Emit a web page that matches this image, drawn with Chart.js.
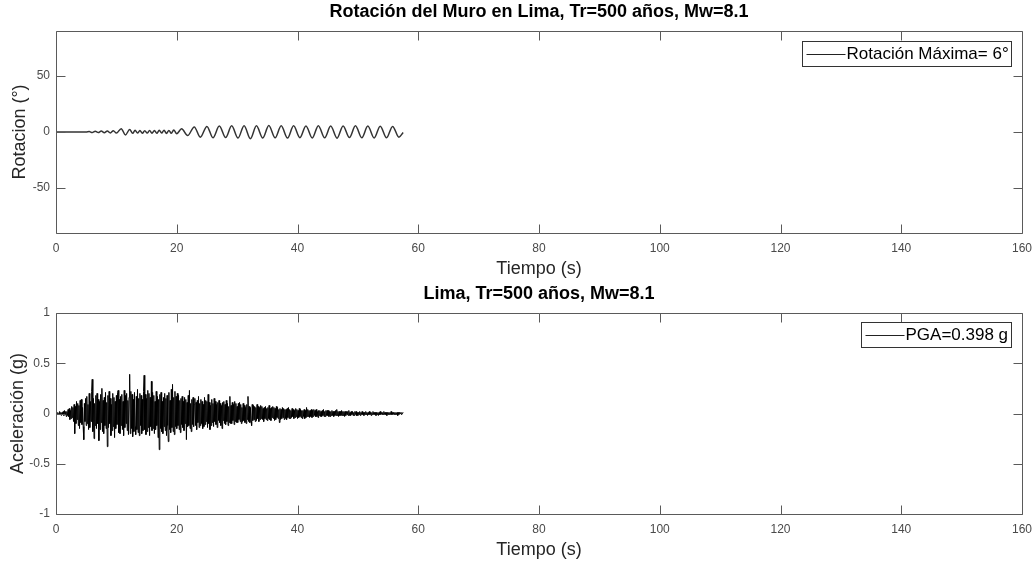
<!DOCTYPE html>
<html><head><meta charset="utf-8">
<script src="https://cdn.jsdelivr.net/npm/chart.js@4/dist/chart.umd.min.js"></script>
<style>
html,body{margin:0;padding:0;background:#fff;width:1035px;height:565px;overflow:hidden}
canvas{position:absolute;left:0;display:block}
#c1{top:0}
#c2{top:282px}
</style></head><body>
<canvas id="c1" width="1035" height="282"></canvas>
<canvas id="c2" width="1035" height="283"></canvas>
<script>
// ---- text ----
const titleTop = 'Rotación del Muro en Lima, Tr=500 años, Mw=8.1';
const titleBottom = 'Lima, Tr=500 años, Mw=8.1';
const xAxisTitle = 'Tiempo (s)';
const yTitleTop = 'Rotacion (°)';
const yTitleBottom = 'Aceleración (g)';
const legendTop = 'Rotación Máxima= 6°';
const legendBottom = 'PGA=0.398 g';

// ---- ticks ----
const xTicks = [0, 20, 40, 60, 80, 100, 120, 140, 160];
const xTickLabels = ['0', '20', '40', '60', '80', '100', '120', '140', '160'];
const rotTicks = [-50, 0, 50];
const rotTickLabels = ['-50', '0', '50'];
const accTicks = [-1, -0.5, 0, 0.5, 1];
const accTickLabels = ['-1', '-0.5', '0', '0.5', '1'];

// ---- rotation series (extrema) ----
const rotTime = [0, 5.0, 5.5, 6.0, 6.5, 7.0, 7.5, 8.0, 8.5, 9.0, 9.5, 10.0, 10.8, 11.5, 12.2, 12.7,
  13.1, 13.5, 13.9, 14.3, 14.7, 15.1, 15.5, 15.9, 16.3, 16.7, 17.1, 17.5, 17.9, 18.3, 18.7, 19.1, 19.5,
  20.0, 20.8, 21.8, 22.9, 23.9, 25.0, 26.0, 27.05, 28.1, 29.1, 30.15, 31.15, 32.2, 33.2, 34.25, 35.25,
  36.3, 37.3, 38.35, 39.35, 40.4, 41.4, 42.45, 43.45, 44.5, 45.5, 46.55, 47.55, 48.6, 49.6, 50.65,
  51.65, 52.7, 53.7, 54.75, 55.75, 56.8, 57.5];
const rotValue = [0, 0, 0.4, -0.5, 0.6, -0.5, 0.8, -0.6, 0.9, -0.8, 1.2, -1.0, 3.0, -2.6, 2.2, -1.2,
  1.5, -1.0, 1.3, -1.2, 1.2, -1.0, 1.4, -1.1, 1.3, -1.2, 1.5, -1.0, 1.6, -1.3, 1.4, -1.2, 1.8,
  -1.5, 2.8, -3.2, 4.5, -4.6, 5.0, -5.2, 5.3, -5.0, 5.5, -5.4, 5.6, -6.0, 5.5, -5.3, 5.7,
  -5.2, 5.6, -5.4, 5.5, -5.1, 5.4, -5.3, 5.6, -5.2, 5.3, -5.5, 5.4, -5.0, 5.5, -5.2,
  5.3, -5.4, 5.2, -5.1, 5.0, -4.6, -0.5];

// ---- acceleration series, one value every 0.1 s from 0 to 57.5 s ----
const accelStep = 0.1;
const accelValue = [
  0, 0.01, -0.01, 0.01, 0.00, -0.01, 0.02, -0.01, 0.01, -0.02,
  0.01, -0.01, 0.02, -0.02, 0.03, -0.01, 0.02, -0.03, 0.02, -0.02,
  0.04, -0.03, 0.05, -0.06, 0.03, -0.05, 0.07, -0.04, 0.06, -0.08,
  0.09, -0.20, 0.07, -0.10, 0.12, -0.06, 0.10, -0.12, 0.08, -0.15,
  0.13, -0.09, 0.14, -0.11, 0.06, -0.13, -0.26, 0.10, -0.08, 0.15,
  -0.12, 0.17, -0.10, 0.09, -0.16, 0.20, -0.14, 0.12, -0.08, 0.22,
  0.34, -0.18, 0.15, -0.25, 0.10, -0.12, 0.18, -0.15, 0.20, -0.10,
  0.14, -0.27, 0.12, -0.16, 0.19, -0.09, 0.25, -0.18, 0.13, -0.20,
  0.16, -0.12, 0.21, -0.15, 0.11, -0.33, 0.18, -0.14, 0.22, -0.10,
  0.15, -0.22, 0.09, -0.17, 0.20, -0.13, 0.16, -0.24, 0.12, -0.15,
  0.18, -0.11, 0.21, 0.23, -0.19, 0.14, -0.20, 0.17, -0.12, 0.19,
  -0.16, 0.12, -0.22, 0.23, -0.14, 0.18, -0.10, 0.20, -0.17, 0.13,
  -0.21, 0.16, 0.39, -0.20, 0.22, -0.15, 0.19, -0.23, 0.14, -0.18,
  0.21, -0.13, -0.21, 0.17, -0.16, 0.24, -0.19, 0.15, -0.22, 0.20,
  -0.12, 0.18, -0.20, 0.14, -0.17, 0.22, 0.38, -0.16, 0.19, -0.21,
  0.15, -0.18, 0.23, -0.14, 0.20, -0.22, 0.16, -0.13, 0.32, -0.17,
  0.21, -0.15, 0.18, -0.20, 0.12, -0.16, 0.22, -0.12, 0.17, -0.24,
  0.14, -0.36, 0.19, -0.15, 0.21, -0.18, 0.12, -0.20, 0.16, -0.13,
  0.20, -0.17, 0.15, -0.22, 0.18, -0.12, -0.28, 0.21, -0.16, 0.13,
  -0.19, 0.24, -0.14, 0.29, -0.18, 0.16, -0.21, 0.22, -0.13, 0.17,
  -0.15, 0.20, -0.12, 0.18, -0.16, 0.13, -0.19, 0.15, -0.11, 0.17,
  -0.14, 0.12, -0.17, 0.16, -0.10, 0.14, -0.26, 0.11, -0.13, 0.18,
  -0.12, 0.23, -0.15, 0.10, -0.18, 0.14, -0.11, 0.16, -0.13, 0.09,
  0.15, -0.12, 0.11, -0.16, 0.13, -0.09, 0.17, -0.14, 0.10, -0.12,
  0.14, -0.10, 0.12, -0.15, 0.09, -0.13, 0.16, -0.11, 0.13, -0.08,
  0.12, -0.14, 0.19, -0.10, 0.11, -0.16, 0.08, -0.12, 0.14, -0.09,
  0.10, -0.13, 0.15, -0.08, 0.12, -0.11, 0.09, -0.14, 0.11, -0.07,
  0.13, -0.09, 0.10, -0.12, 0.08, -0.15, 0.11, -0.07, 0.12, -0.10,
  0.09, -0.11, 0.13, -0.08, 0.10, -0.12, 0.07, -0.09, 0.17, -0.10,
  0.08, -0.10, 0.11, -0.07, 0.09, -0.11, 0.12, -0.08, 0.10, -0.09,
  0.07, -0.09, 0.10, -0.06, 0.11, -0.08, 0.09, -0.10, 0.06, -0.08,
  0.10, -0.07, 0.08, -0.09, 0.06, -0.10, 0.09, -0.06, 0.17, -0.08,
  0.07, -0.09, 0.06, -0.08, -0.12, 0.09, -0.07, 0.08, -0.06, 0.07,
  -0.08, 0.06, -0.07, 0.09, -0.05, 0.07, -0.08, 0.06, -0.06, 0.08,
  -0.05, 0.07, -0.06, 0.05, -0.08, 0.06, -0.05, 0.07, -0.06, 0.05,
  -0.07, 0.06, -0.05, 0.08, -0.06, 0.05, -0.07, 0.06, -0.04, 0.07,
  -0.05, 0.06, -0.07, 0.05, -0.06, 0.07, -0.04, 0.06, -0.05, 0.04,
  -0.09, 0.05, -0.06, 0.04, -0.05, 0.06, -0.04, 0.05, -0.06, 0.04,
  -0.05, 0.04, -0.06, 0.05, -0.04, 0.06, -0.05, 0.04, -0.05, 0.03,
  -0.04, 0.05, -0.03, 0.04, -0.05, 0.03, -0.04, 0.05, -0.03, 0.04,
  -0.05, 0.03, -0.04, 0.05, -0.03, 0.04, -0.04, 0.03, -0.05, 0.03,
  -0.03, 0.04, -0.05, 0.03, -0.04, 0.06, -0.03, 0.04, -0.03, 0.03,
  -0.04, 0.03, -0.03, 0.04, -0.04, 0.03, -0.03, 0.04, -0.02, 0.03,
  -0.03, 0.04, -0.03, 0.02, -0.04, 0.03, -0.02, 0.03, -0.03, 0.02,
  -0.03, 0.03, -0.02, 0.04, -0.03, 0.02, -0.03, 0.03, -0.02, 0.03,
  -0.02, 0.03, -0.03, 0.02, -0.03, 0.02, -0.02, 0.03, -0.02, 0.02,
  -0.03, 0.02, -0.02, 0.03, -0.02, 0.04, -0.02, 0.02, -0.03, 0.02,
  -0.02, 0.02, -0.02, 0.03, -0.02, 0.02, -0.02, 0.02, -0.03, 0.02,
  -0.02, 0.02, -0.01, 0.02, -0.02, 0.03, -0.02, 0.01, -0.02, 0.02,
  -0.01, 0.02, -0.02, 0.01, -0.02, 0.02, -0.01, 0.02, -0.02, 0.01,
  -0.02, 0.01, -0.01, 0.02, -0.02, 0.01, -0.01, 0.02, -0.01, 0.01,
  -0.02, 0.01, -0.01, 0.02, -0.01, 0.01, -0.02, 0.01, -0.01, 0.02,
  -0.01, 0.01, -0.02, 0.01, -0.01, 0.02, -0.01, 0.01, -0.01, 0.01,
  -0.02, 0.01, -0.01, 0.01, -0.02, 0.01, -0.01, 0.02, -0.01, 0.01,
  -0.01, 0.01, -0.01, 0.02, -0.01, 0.01, -0.01, 0.01, -0.02, 0.01,
  -0.01, 0.01, -0.01, 0.01, -0.01, 0.02, -0.01, 0.01, -0.01, 0.01,
  -0.01, 0.01, -0.01, 0.01, -0.01, 0.01, -0.02, 0.01, -0.01, 0.01,
  0.00, 0.01, -0.01, 0.01, 0.00, 0.01
];

// ---- rendering ----
const FONT = "'Liberation Sans', Arial, Helvetica, sans-serif";
const AXIS_COLOR = '#5a5a5a';
const TICK_TEXT = '#4a4a4a';

const matlabAxes = {
  id: 'matlabAxes',
  afterDraw(chart, args, opts) {
    const ctx = chart.ctx, a = chart.chartArea;
    const xs = chart.scales.x, ys = chart.scales.y;
    const L = Math.round(a.left) + 0.5, R = Math.round(a.right) + 0.5;
    const T = Math.round(a.top) + 0.5, B = Math.round(a.bottom) + 0.5;
    const tl = 9;
    ctx.save();
    ctx.strokeStyle = AXIS_COLOR;
    ctx.lineWidth = 1;
    ctx.beginPath();
    ctx.moveTo(L, T); ctx.lineTo(R, T); ctx.lineTo(R, B); ctx.lineTo(L, B); ctx.closePath();
    xs.ticks.forEach(t => {
      const p = Math.round(xs.getPixelForValue(t.value)) + 0.5;
      ctx.moveTo(p, B); ctx.lineTo(p, B - tl);
      ctx.moveTo(p, T); ctx.lineTo(p, T + tl);
    });
    ys.ticks.forEach(t => {
      const p = Math.round(ys.getPixelForValue(t.value)) + 0.5;
      ctx.moveTo(L, p); ctx.lineTo(L + tl, p);
      ctx.moveTo(R, p); ctx.lineTo(R - tl, p);
    });
    ctx.stroke();

    // legend box (MATLAB style, top-right inside axes)
    const ds = chart.data.datasets[0];
    ctx.font = '17px ' + FONT;
    const tw = ctx.measureText(ds.label).width;
    const bh = 25, padL = 4, lineLen = 39, gap = 1, padR = 3;
    const bw = Math.round(padL + lineLen + gap + tw + padR);
    const bx = Math.round(a.right - opts.offRight - bw) + 0.5;
    const by = Math.round(a.top + opts.offTop) + 0.5;
    ctx.fillStyle = '#fff';
    ctx.fillRect(bx, by, bw, bh);
    ctx.strokeStyle = '#333';
    ctx.strokeRect(bx, by, bw, bh);
    const cy = by + bh / 2;
    ctx.beginPath();
    ctx.strokeStyle = '#222';
    ctx.lineWidth = 1;
    ctx.moveTo(bx + padL, Math.round(cy) + 0.5);
    ctx.lineTo(bx + padL + lineLen, Math.round(cy) + 0.5);
    ctx.stroke();
    ctx.fillStyle = '#000';
    ctx.textBaseline = 'middle';
    ctx.textAlign = 'left';
    ctx.fillText(ds.label, bx + padL + lineLen + gap, cy + 0.5);
    ctx.restore();
  }
};

function makeChart(canvasId, cfg) {
  return new Chart(document.getElementById(canvasId), {
    type: 'line',
    data: { datasets: [{
      label: cfg.legend,
      data: cfg.points,
      borderColor: cfg.color,
      borderWidth: cfg.lineWidth,
      pointRadius: 0,
      fill: false,
      cubicInterpolationMode: cfg.monotone ? 'monotone' : 'default',
      tension: 0
    }]},
    options: {
      responsive: false,
      animation: false,
      devicePixelRatio: 1,
      events: [],
      layout: { padding: { left: 0, right: 13, top: 0, bottom: 0 } },
      plugins: {
        legend: { display: false },
        tooltip: { enabled: false },
        title: {
          display: true, text: cfg.title, fullSize: false, color: '#000',
          font: { family: FONT, size: 18, weight: 'bold' },
          padding: { top: 1.7, bottom: 7.7 }
        },
        matlabAxes: { offTop: cfg.legOffTop, offRight: 11 }
      },
      scales: {
        x: {
          type: 'linear', min: 0, max: 160,
          afterBuildTicks: s => { s.ticks = xTicks.map(v => ({ value: v })); },
          afterFit: s => { s.height = cfg.xHeight; s.paddingLeft = 0; s.paddingRight = 0; },
          grid: { display: false, drawTicks: false },
          border: { display: false },
          ticks: {
            padding: 8.1, color: TICK_TEXT, maxRotation: 0, autoSkip: false,
            font: { family: FONT, size: 12 },
            callback: v => xTickLabels[xTicks.indexOf(v)]
          },
          title: {
            display: true, text: xAxisTitle, color: '#262626',
            font: { family: FONT, size: 18 },
            padding: { top: 0, bottom: cfg.xTitlePad }
          }
        },
        y: {
          type: 'linear', min: cfg.yMin, max: cfg.yMax,
          afterBuildTicks: s => { s.ticks = cfg.yTicks.map(v => ({ value: v })); },
          afterFit: s => { s.width = 56; s.paddingTop = 0; s.paddingBottom = 0; },
          grid: { display: false, drawTicks: false },
          border: { display: false },
          ticks: {
            padding: 6, color: TICK_TEXT, autoSkip: false,
            font: { family: FONT, size: 12 },
            callback: v => cfg.yTickLabels[cfg.yTicks.indexOf(v)]
          },
          title: {
            display: true, text: cfg.yTitle, color: '#262626',
            font: { family: FONT, size: 18 },
            padding: { top: cfg.yTitlePad, bottom: 0 }
          }
        }
      }
    },
    plugins: [matlabAxes]
  });
}

makeChart('c1', {
  title: titleTop, legend: legendTop,
  points: rotTime.map((t, i) => ({ x: t, y: rotValue[i] })),
  color: '#333', lineWidth: 1.5, monotone: true,
  yMin: -90, yMax: 90, yTicks: rotTicks, yTickLabels: rotTickLabels,
  yTitle: yTitleTop, yTitlePad: 9.6,
  xHeight: 49, xTitlePad: 2.2, legOffTop: 10
});

makeChart('c2', {
  title: titleBottom, legend: legendBottom,
  points: accelValue.map((v, i) => ({ x: +(i * accelStep).toFixed(2), y: v })),
  color: '#000', lineWidth: 1, monotone: false,
  yMin: -1, yMax: 1, yTicks: accTicks, yTickLabels: accTickLabels,
  yTitle: yTitleBottom, yTitlePad: 7.0,
  xHeight: 51, xTitlePad: 4.2, legOffTop: 9
});
</script>
</body></html>
